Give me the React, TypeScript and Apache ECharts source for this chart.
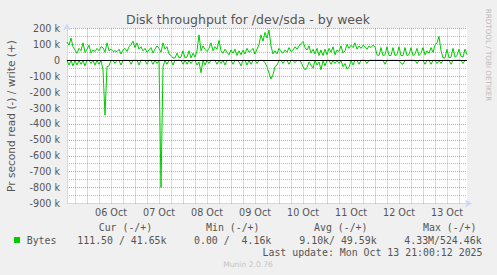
import React, { useEffect, useRef } from "react";
import * as echarts from "echarts";

// x values are hours counted from Mon Oct 05 00:00; one sample per hour
const START_HOUR = 14;
const END_HOUR = 214;

// write (+) bytes per second, in k
const writeK = [
  115, 95, 140, 85, 65, 45, 75, 60, 110, 50,
  70, 95, 45, 65, 55, 75, 60, 85, 80, 50,
  110, 60, 70, 55, 60, 55, 70, 40, 65, 75,
  55, 85, 100, 120, 80, 110, 70, 85, 60, 75,
  50, 65, 80, 45, 70, 90, 75, 50, 110, 70,
  85, 40, 30, 15, 15, 45, 15, 20, 60, 15,
  20, 60, 15, 45, 20, 60, 160, 60, 90, 70,
  55, 75, 110, 60, 85, 70, 125, 60, 45, 70,
  50, 35, 65, 45, 70, 30, 60, 35, 65, 40,
  75, 50, 60, 75, 40, 70, 100, 160, 120, 175,
  140, 190, 90, 40, 60, 40, 75, 55, 45, 65,
  50, 80, 55, 65, 85, 70, 90, 105, 118, 80,
  65, 90, 45, 70, 40, 75, 30, 65, 30, 70,
  35, 75, 50, 85, 35, 65, 55, 90, 45, 60,
  100, 75, 95, 80, 110, 70, 90, 75, 95, 85,
  70, 90, 80, 95, 85, 35, 30, 80, 30, 35,
  85, 30, 30, 80, 30, 35, 85, 30, 30, 80,
  30, 35, 80, 30, 40, 75, 30, 45, 80, 35,
  60, 45, 80, 50, 95, 110, 150, 60, 15, 15,
  70, 15, 20, 75, 20, 30, 70, 25, 20, 70,
  35,
];

// read (-) bytes per second, in k (drawn negative)
const readK = [
  -1, -30, -1, -35, -1, -30, -1, -25, -1, -35,
  0, -1, -20, 0, -30, -1, -25, -1, -60, -344,
  -40, -35, -1, 0, -20, 0, -1, -30, -1, 0,
  0, 0, -25, 0, 0, 0, -30, 0, 0, -1,
  -25, 0, 0, -25, 0, -20, -1, -800, -40, -1,
  -25, 0, -1, -30, 0, 0, 0, 0, -25, 0,
  -25, 0, -20, 0, -1, -30, -10, -78, -1, -30,
  0, -20, 0, 0, -1, -25, 0, -20, 0, -30,
  -1, 0, -1, -25, 0, 0, -10, -35, -1, 0,
  -30, 0, -25, 0, 0, -20, 0, 0, -1, -15,
  -40, -80, -118, -90, -40, -30, -1, 0, -20, 0,
  -1, -25, 0, 0, -15, 0, 0, -10, -40, -60,
  -45, -10, -30, -50, -1, -30, -10, -60, -1, -35,
  0, 0, -25, 0, -20, 0, -20, -1, -40, -20,
  -55, -45, -1, -30, 0, -1, -25, 0, 0, 0,
  -20, 0, 0, 0, 0, 0, 0, 0, 0, -25,
  0, 0, 0, 0, 0, 0, -1, -20, -25, 0,
  0, 0, 0, 0, 0, -20, 0, 0, -1, -25,
  0, 0, -25, 0, 0, -20, 0, -20, 0, 0,
  0, 0, -25, 0, 0, 0, 0, 0, -20, 0,
  0,
];

const dayLabels = ["06 Oct", "07 Oct", "08 Oct", "09 Oct", "10 Oct", "11 Oct", "12 Oct", "13 Oct"];
const dayLabelHours = [36, 60, 84, 108, 132, 156, 180, 204];
const dayBoundaryHours = [24, 48, 72, 96, 120, 144, 168, 192];
const sixHourHours = [
  18, 24, 30, 36, 42, 48, 54, 60, 66, 72, 78, 84, 90, 96, 102, 108, 114, 120,
  126, 132, 138, 144, 150, 156, 162, 168, 174, 180, 186, 192, 198, 204, 210,
];

const legendHeaders = ["Cur (-/+)", "Min (-/+)", "Avg (-/+)", "Max (-/+)"];
const legendValues = ["111.50 / 41.65k", "0.00 /  4.16k", "9.10k/ 49.59k", "4.33M/524.46k"];
const legendName = "Bytes";
const lastUpdate = "Last update: Mon Oct 13 21:00:12 2025";
const titleText = "Disk throughput for /dev/sda - by week";
const unitText = "Pr second read (-) / write (+)";
const watermark = "RRDTOOL / TOBI OETIKER";
const version = "Munin 2.0.76";

const FONT = "DejaVu Sans";
const MONO = "DejaVu Sans Mono";
const TXT = "#555555";
const GREEN = "#00cc00";
const AXIS = "#CFD6F8";
const GRID = "rgba(143,143,143,0.6)";
const MGRID = "rgba(222,79,79,0.6)";

function txt(text: string, x: number, y: number, size: number, opts: any = {}) {
  const align = opts.align || "left";
  return {
    type: "text",
    x,
    y,
    rotation: opts.rotation || 0,
    silent: true,
    style: {
      text,
      fill: opts.fill || TXT,
      fontSize: size,
      fontFamily: opts.family || FONT,
      textAlign: align,
      align,
      textVerticalAlign: "middle",
      verticalAlign: "middle",
    },
  };
}

export default function App() {
  const ref = useRef<HTMLDivElement>(null);
  useEffect(() => {
    if (!ref.current) return;
    const chart = echarts.init(ref.current, undefined, { renderer: "svg" });
    const writeData = writeK.map((v, i) => [START_HOUR + i, v]);
    const readData = readK.map((v, i) => [START_HOUR + i, v]);
    const labelFor = (v: number) => {
      const idx = dayLabelHours.indexOf(Math.round(v));
      return idx >= 0 ? dayLabels[idx] : "";
    };
    const gridLines: any[] = [];
    sixHourHours
      .filter((h) => dayBoundaryHours.indexOf(h) < 0)
      .forEach((h) => gridLines.push({ xAxis: h, lineStyle: { color: GRID, type: [1, 1], width: 1 } }));
    dayBoundaryHours.forEach((h) =>
      gridLines.push({ xAxis: h, lineStyle: { color: MGRID, type: [1, 1], width: 1 } })
    );

    const headerX = [98.7, 206, 314, 423];
    const valueX = [77.3, 194, 299.3, 404.3];

    chart.setOption({
      animation: false,
      backgroundColor: "#f0f0f0",
      grid: {
        left: 67,
        top: 28.5,
        width: 400,
        height: 175,
        show: true,
        backgroundColor: "#ffffff",
        borderWidth: 0,
      },
      xAxis: {
        type: "value",
        min: START_HOUR,
        max: END_HOUR,
        axisLine: {
          show: true,
          onZero: false,
          lineStyle: { color: AXIS, width: 1 },
          symbol: ["none", "arrow"],
          symbolSize: [6, 7],
          symbolOffset: [0, 5],
        },
        axisTick: { show: false },
        splitLine: { show: false },
        axisLabel: {
          customValues: dayLabelHours,
          formatter: labelFor,
          color: TXT,
          fontSize: 9.6,
          fontFamily: FONT,
          margin: 4,
        },
      },
      yAxis: {
        type: "value",
        min: -900,
        max: 200,
        interval: 100,
        axisLine: {
          show: true,
          lineStyle: { color: AXIS, width: 1 },
          symbol: ["none", "arrow"],
          symbolSize: [6, 7],
          symbolOffset: [0, 5],
        },
        axisTick: { show: false },
        axisLabel: {
          formatter: (v: number) => (v === 0 ? "0" : v + " k"),
          color: TXT,
          fontSize: 9.6,
          fontFamily: FONT,
          margin: 7,
        },
        splitLine: { show: true, lineStyle: { color: MGRID, type: [1, 1], width: 1 } },
        minorTick: { show: false, splitNumber: 2 },
        minorSplitLine: { show: true, lineStyle: { color: GRID, type: [1, 1], width: 1 } },
      },
      series: [
        {
          type: "line",
          data: [],
          z: 1,
          silent: true,
          markLine: {
            silent: true,
            symbol: ["none", "none"],
            label: { show: false },
            data: gridLines,
          },
        },
        {
          type: "line",
          data: readData,
          z: 2,
          symbol: "none",
          silent: true,
          lineStyle: { color: GREEN, width: 1 },
          itemStyle: { color: GREEN },
        },
        {
          type: "line",
          data: writeData,
          z: 2,
          symbol: "none",
          silent: true,
          lineStyle: { color: GREEN, width: 1 },
          itemStyle: { color: GREEN },
        },
        {
          type: "line",
          data: [],
          z: 3,
          silent: true,
          markLine: {
            silent: true,
            symbol: ["none", "none"],
            label: { show: false },
            data: [{ yAxis: 0, lineStyle: { color: "#000000", type: "solid", width: 1 } }],
          },
        },
      ],
      graphic: [
        txt(titleText, 248, 19, 12.5, { align: "center" }),
        txt(unitText, 11, 116, 10.6, { align: "center", rotation: Math.PI / 2 }),
        txt(watermark, 488, 55, 7.2, { align: "center", rotation: -Math.PI / 2, fill: "#bbbbbb" }),
        ...legendHeaders.map((h, i) => txt(h, headerX[i], 227.5, 9.9, { family: MONO })),
        {
          type: "rect",
          silent: true,
          shape: { x: 14, y: 237, width: 6, height: 6 },
          style: { fill: GREEN },
        },
        txt(legendName, 26.7, 240, 9.9, { family: MONO }),
        ...legendValues.map((v, i) => txt(v, valueX[i], 240, 9.9, { family: MONO })),
        txt(lastUpdate, 482.5, 252, 9.9, { family: MONO, align: "right" }),
        txt(version, 248, 264, 7.6, { align: "center", fill: "#c4c4c4" }),
      ],
    });
    return () => chart.dispose();
  }, []);
  return (
    <div
      ref={ref}
      style={{ position: "absolute", left: 0, top: 0, width: "497px", height: "275px" }}
    />
  );
}
